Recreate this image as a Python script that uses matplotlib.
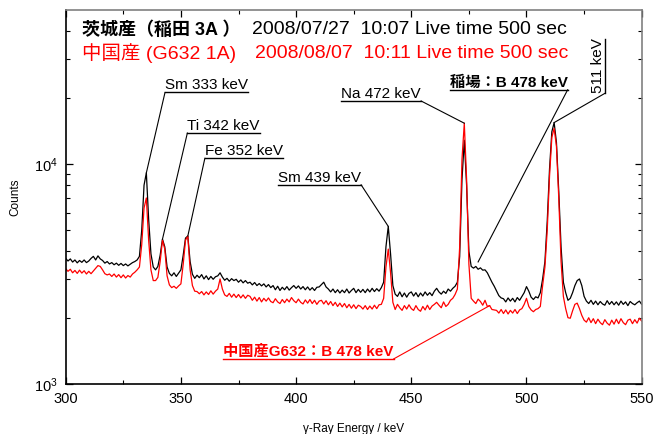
import numpy as np
import matplotlib.pyplot as plt
from matplotlib.ticker import FixedLocator, MultipleLocator, NullFormatter

plt.rcParams['font.family'] = ['Liberation Sans', 'Noto Sans CJK JP']
plt.rcParams['mathtext.fontset'] = 'custom'
plt.rcParams['mathtext.rm'] = 'Liberation Sans'

# gamma spectra, 1 keV per channel from 300 to 550 keV
energy = np.arange(300, 551)

# Ibaraki sample (Inada 3A), counts per channel
ibaraki = [
    3720, 3620, 3700, 3580, 3660, 3550, 3640, 3570, 3660, 3560,
    3620, 3720, 3800, 3660, 3820, 3700, 3640, 3540, 3600, 3510,
    3560, 3480, 3540, 3460, 3530, 3450, 3510, 3440, 3500, 3560,
    3600, 3660, 3800, 5000, 8000, 9100, 5600, 3900, 3400, 3300,
    3420, 3850, 4550, 4200, 3400, 3180, 3100, 3200, 3080, 3190,
    3300, 3850, 4600, 4700, 3600, 3150, 3020, 3120, 3040, 3140,
    3000, 3100, 2980, 3080, 2990, 3070, 3100, 3200, 3060, 2960,
    3020, 2930, 3010, 2950, 2990, 2900, 2970, 2880, 2950, 2870,
    2900, 2820, 2890, 2800, 2860, 2790, 2850, 2760, 2830, 2740,
    2800, 2680, 2780, 2660, 2750, 2680, 2770, 2670, 2740, 2800,
    2720, 2790, 2700, 2770, 2680, 2760, 2670, 2740, 2660, 2750,
    2760, 2830, 2900, 2760, 2700, 2620, 2700, 2600, 2680, 2590,
    2670, 2600, 2700, 2590, 2660, 2720, 2600, 2690, 2610, 2690,
    2600, 2700, 2620, 2720, 2630, 2710, 2640, 2740, 2900, 4200,
    5200, 3900, 2800, 2560, 2500, 2620, 2490, 2590, 2480, 2580,
    2620, 2510, 2600, 2490, 2590, 2510, 2620, 2530, 2600, 2520,
    2640, 2720, 2620, 2560, 2640, 2580, 2700, 2640, 2720, 2780,
    2900, 3800, 8500, 12800, 8000, 4000, 3420, 3360, 3420, 3320,
    3370, 3290, 3300, 3200, 3050, 2900, 2780, 2650, 2520, 2460,
    2440, 2360, 2460, 2380, 2450, 2360, 2470, 2400, 2500, 2600,
    2770, 2640, 2480, 2420, 2490, 2460, 2600, 3000, 3600, 5500,
    9500, 14000, 15400, 12500, 7500, 4200, 2900, 2600, 2400, 2450,
    2600, 2800, 2950, 3000, 2800, 2500, 2380, 2320, 2400, 2300,
    2380, 2290, 2370, 2310, 2280, 2390, 2300, 2370, 2290, 2360,
    2280, 2380, 2300, 2360, 2270, 2370, 2320, 2290, 2340, 2380,
    2300,
]

# Chinese sample (G632 1A)
china = [
    3340, 3250, 3320, 3200, 3280, 3180, 3290, 3190, 3270, 3160,
    3250, 3170, 3260, 3350, 3450, 3420, 3300, 3170, 3130, 3160,
    3080, 3160, 3060, 3140, 3040, 3130, 3030, 3110, 3060, 3160,
    3220, 3300, 3400, 4300, 6300, 7000, 4500, 3300, 2950, 2950,
    3050, 3600, 4500, 4100, 3100, 2820, 2740, 2780, 2720, 2790,
    2850, 3500, 4500, 4700, 3300, 2800, 2640, 2630, 2570, 2630,
    2540, 2620, 2550, 2650, 2560, 2640, 2700, 3000, 2700, 2540,
    2500, 2580, 2480, 2560, 2470, 2550, 2460, 2540, 2450, 2530,
    2500, 2400, 2480, 2380, 2470, 2360, 2450, 2380, 2460, 2370,
    2340, 2440, 2360, 2320, 2420, 2340, 2430, 2360, 2470, 2390,
    2340, 2430, 2350, 2310, 2410, 2330, 2420, 2320, 2400, 2300,
    2380, 2400, 2310, 2390, 2290, 2370, 2270, 2350, 2250, 2330,
    2240, 2320, 2220, 2300, 2210, 2290, 2200, 2280, 2250, 2190,
    2270, 2180, 2260, 2190, 2280, 2200, 2290, 2300, 2450, 3400,
    4100, 3200, 2350, 2180, 2300, 2220, 2160, 2270, 2190, 2290,
    2200, 2160, 2270, 2180, 2140, 2250, 2170, 2280, 2180, 2260,
    2300, 2350, 2280, 2220, 2360, 2250, 2300, 2400, 2450, 2550,
    2700, 4200, 10500, 15300, 8500, 3500, 2450, 2380, 2320, 2430,
    2370, 2280, 2400, 2250, 2270, 2180, 2170, 2160, 2100, 2180,
    2090, 2170, 2080, 2160, 2100, 2180, 2090, 2170, 2200, 2300,
    2450, 2250, 2170, 2130, 2180, 2200, 2250, 2800, 3400, 5000,
    8800, 13200, 14500, 12000, 7000, 3600, 2500, 2200, 2000, 1990,
    2150, 2300, 2330, 2200, 2050, 1950, 1910, 2000, 1900, 1980,
    1880, 1970, 1900, 1860, 1960, 1890, 1850, 1950, 1870, 1970,
    1880, 1980, 1900, 1860, 1950, 1970, 1880, 1960, 1890, 1990,
    1930,
]

# peak labels: text, channel the leader points at, side of the underline it leaves from
peak_names = ['Sm 333 keV', 'Ti 342 keV', 'Fe 352 keV', 'Sm 439 keV', 'Na 472 keV']
peak_channels = [335, 342, 353, 440, 473]
peak_sides = ['left', 'left', 'left', 'right', 'right']
peak_text_pos = [(343.1, 21100), (352.8, 13800), (360.4, 10600), (392.2, 8030), (419.7, 19300)]

ibaraki = np.array(ibaraki)
china = np.array(china)

fig = plt.figure(figsize=(6.61, 4.34), dpi=100)
ax = fig.add_axes([0.0994, 0.1152, 0.8714, 0.8618])

ax.plot(energy, ibaraki, color='black', lw=0.9)
ax.plot(energy, china, color='#ff0000', lw=0.9)

ax.set_yscale('log')
ax.set_xlim(300, 550)
ax.set_ylim(1000, 50000)

ax.xaxis.set_major_locator(MultipleLocator(50))
ax.xaxis.set_minor_locator(MultipleLocator(25))
ax.yaxis.set_major_locator(FixedLocator([1e3, 1e4]))
ax.set_yticklabels([r'$\mathrm{10^{3}}$', r'$\mathrm{10^{4}}$'])
ax.yaxis.set_minor_locator(FixedLocator([2e3, 3e3, 4e3, 5e3, 6e3, 7e3, 8e3, 9e3, 2e4, 3e4, 4e4]))
ax.yaxis.set_minor_formatter(NullFormatter())

ax.tick_params(which='both', direction='in', top=True, right=True, labelsize=10.5)
ax.tick_params(which='major', length=5, width=0.9, pad=6)
ax.tick_params(which='minor', length=3, width=0.8)

for side in ['left', 'bottom']:
    ax.spines[side].set_color('black')
    ax.spines[side].set_linewidth(1.2)
for side in ['top', 'right']:
    ax.spines[side].set_color('#808080')
    ax.spines[side].set_linewidth(1.2)

ax.set_xlabel('γ-Ray Energy / keV', fontsize=8.5, labelpad=12)
ax.set_ylabel('Counts', fontsize=8.5)
ax.yaxis.set_label_coords(-0.077, 0.5)

# sample headers
ax.text(0.0278, 0.9465, '茨城産（稲田 3A ）', transform=ax.transAxes, fontsize=13,
        fontweight='bold', va='center')
ax.text(0.323, 0.9465, '2008/07/27  10:07 Live time 500 sec', transform=ax.transAxes,
        fontsize=14, va='center')
ax.text(0.0278, 0.884, '中国産 (G632 1A)', transform=ax.transAxes, fontsize=14,
        color='#ff0000', va='center')
ax.text(0.3286, 0.884, '2008/08/07  10:11 Live time 500 sec', transform=ax.transAxes,
        fontsize=14, color='#ff0000', va='center')

# underlined labels with leader lines, drawn after the text sizes are known
labels = []
for name, ch, side, pos in zip(peak_names, peak_channels, peak_sides, peak_text_pos):
    t = ax.text(pos[0], pos[1], name, fontsize=11, ha='left', va='bottom')
    top = max(ibaraki[ch - 300], china[ch - 300])
    labels.append((t, side, (ch, top), 'black'))

t = ax.text(466.7, 21700, '稲場：B 478 keV', fontsize=11, fontweight='bold', ha='left', va='bottom')
labels.append((t, 'right', (479, ibaraki[479 - 300] * 1.08), 'black'))

t = ax.text(368.4, 1300, '中国産G632：B 478 keV', fontsize=11, fontweight='bold',
            color='#ff0000', ha='left', va='bottom')
labels.append((t, 'right', (484, china[484 - 300]), '#ff0000'))

t511 = ax.text(534, 20900, '511 keV', fontsize=11, rotation=90, ha='right', va='bottom')

fig.canvas.draw()
renderer = fig.canvas.get_renderer()
to_data = ax.transData.inverted()

for t, side, target, col in labels:
    bb = t.get_window_extent(renderer)
    a = to_data.transform((bb.x0, bb.y0))
    b = to_data.transform((bb.x1, bb.y0))
    ax.plot([a[0], b[0]], [a[1], b[1]], color=col, lw=1, clip_on=False)
    start = a if side == 'left' else b
    ax.plot([start[0], target[0]], [start[1], target[1]], color=col, lw=0.8, clip_on=False)

# rotated label: the underline runs up its right side
bb = t511.get_window_extent(renderer)
a = to_data.transform((bb.x1, bb.y0))
b = to_data.transform((bb.x1, bb.y1))
ax.plot([a[0], b[0]], [a[1], b[1]], color='black', lw=1, clip_on=False)
ax.plot([a[0], 512], [a[1], ibaraki[512 - 300]], color='black', lw=0.8, clip_on=False)

fig.savefig('out.png', dpi=100)
